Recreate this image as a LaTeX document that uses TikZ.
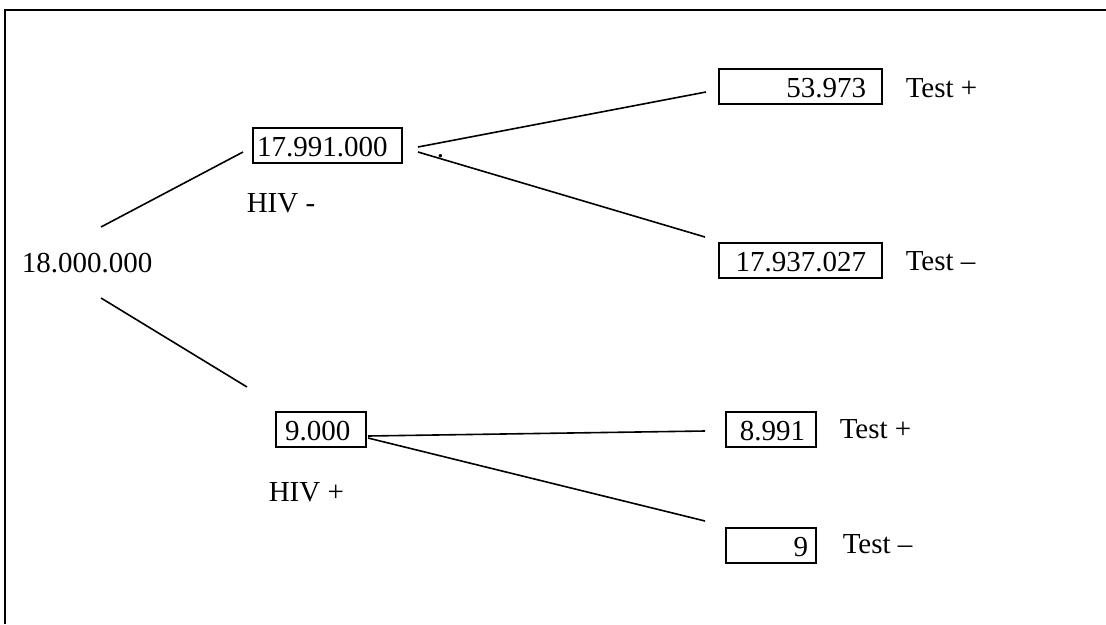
\documentclass[tikz,border=0pt]{standalone}
\usepackage{fontspec}
\setmainfont{Liberation Serif}
\begin{document}
\begin{tikzpicture}[x=1pt,y=-1pt,line width=1.5pt,
  txt/.style={inner sep=0pt,anchor=base west,font=\fontsize{29}{34}\selectfont},
  numbox/.style={draw,line width=2pt,inner ysep=0pt,minimum height=35pt,text height=22pt,text depth=0pt,font=\fontsize{29}{34}\selectfont},
  branch/.style={line width=1.6pt},
  frame/.style={line width=2.5pt}]
\useasboundingbox (0,0) rectangle (1106,624);
% frame (top and left edges)
\coordinate (fb) at (5,624);
\coordinate (fc) at (5,10);
\coordinate (fr) at (1106,10);
\draw[frame] (fb) -- (fc) -- (fr);
% root
\node[txt] (root) at (21,272) {18.000.000};
% level 1
\node[numbox,inner xsep=4pt,text width=141pt,align=left] (neg) at (327.5,145.5) {17.991.000};
\node[txt] (hivneg) at (246,212) {HIV -};
\node[numbox,inner xsep=9pt,text width=72pt,align=left] (pos) at (321,429.5) {9.000};
\node[txt] (hivpos) at (268,501) {HIV +};
% level 2
\node[numbox,inner xsep=16pt,text width=131pt,align=right] (nn1) at (800.5,86.5) {53.973};
\node[txt] (t1) at (905,97) {Test +};
\node[numbox,inner xsep=16pt,text width=131pt,align=right] (nn2) at (800.5,260.5) {17.937.027};
\node[txt] (t2) at (905,270) {Test –};
\node[numbox,inner xsep=11pt,text width=68pt,align=right] (pp1) at (771,429.5) {8.991};
\node[txt] (t3) at (839,438) {Test +};
\node[numbox,inner xsep=8pt,text width=74pt,align=right] (pp2) at (771,545.5) {9};
\node[txt] (t4) at (842,553) {Test –};
\node[txt] (dot) at (436,157) {.};
% connector end points
\coordinate (rU) at (101,227);
\coordinate (rL) at (101,298);
\coordinate (negIn) at (243,152);
\coordinate (posIn) at (247,387);
\coordinate (negOutU) at (418,147);
\coordinate (negOutL) at (418,152);
\coordinate (nn1In) at (706,92);
\coordinate (nn2In) at (705,237);
\coordinate (posOutU) at (368,436);
\coordinate (posOutL) at (368,438);
\coordinate (pp1In) at (705,431);
\coordinate (pp2In) at (705,521);
\draw[branch] (rU) -- (negIn);
\draw[branch] (rL) -- (posIn);
\draw[branch] (negOutU) -- (nn1In);
\draw[branch] (negOutL) -- (nn2In);
\draw[branch] (posOutU) -- (pp1In);
\draw[branch] (posOutL) -- (pp2In);
\end{tikzpicture}
\end{document}
